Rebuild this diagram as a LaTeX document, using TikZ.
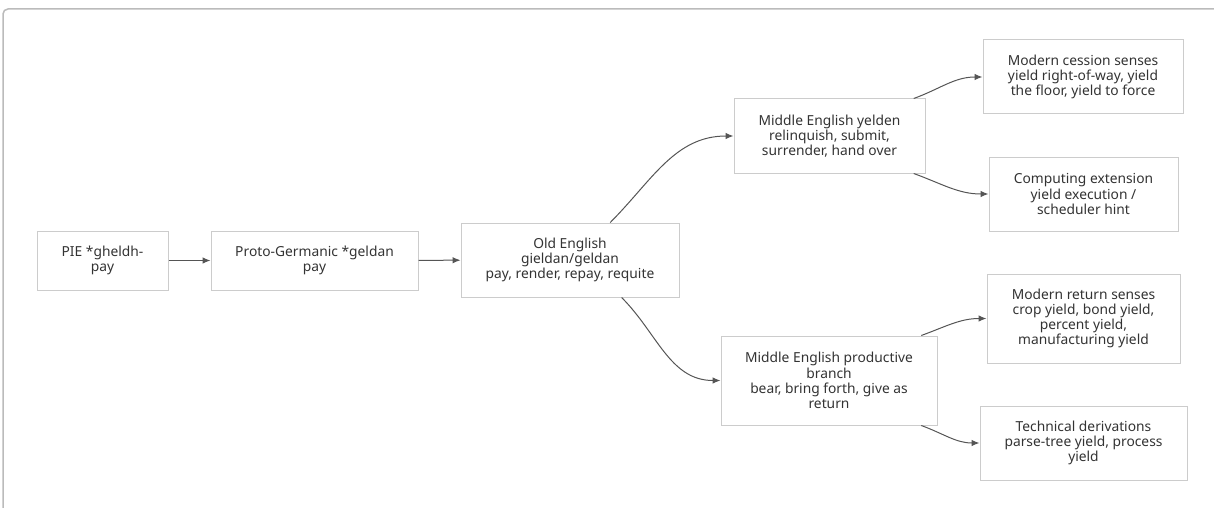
\documentclass[tikz,border=0pt]{standalone}
\usepackage{fontspec}
\setmainfont{Noto Sans}
\usetikzlibrary{arrows,arrows.meta,positioning}

\definecolor{boxgray}{HTML}{CCCCCC}
\definecolor{textgray}{HTML}{333333}
\definecolor{linegray}{HTML}{555555}
\definecolor{framegray}{HTML}{BBBBBB}

\begin{document}
\begin{tikzpicture}[x=1pt,y=-1pt]
			\tikzstyle{Stage}	= [draw=boxgray, fill=white, text=textgray, align=center, inner sep=0pt, line width=1pt, font=\fontsize{13.8}{15.2}\selectfont]
			\tikzstyle{Link}	= [-{Latex[length=8pt,width=6.5pt]}, linegray, line width=1pt]
			\tikzstyle{Frame}	= [framegray, line width=1.5pt, rounded corners=5pt]

			\useasboundingbox (0,0) rectangle (1214,508);
			\draw [Frame] (1214,9) -- (3,9) -- (3,508);

			\node (pie) at (102.5,260.5) [Stage, minimum width=131, minimum height=59] {PIE *gheldh-\\pay};
			\node (pgmc) at (314.5,260.5) [Stage, minimum width=207, minimum height=59] {Proto-Germanic *geldan\\pay};
			\node (oe) at (570,260) [Stage, minimum width=218, minimum height=74] {Old English\\gieldan/geldan\\pay, render, repay, requite};
			\node (yelden) at (829.5,136) [Stage, minimum width=191, minimum height=74] {Middle English yelden\\relinquish, submit,\\surrender, hand over};
			\node (prod) at (829,380.5) [Stage, minimum width=216, minimum height=89] {Middle English productive\\branch\\bear, bring forth, give as\\return};
			\node (cession) at (1083,77) [Stage, minimum width=200, minimum height=74] {Modern cession senses\\yield right-of-way, yield\\the floor, yield to force};
			\node (comp) at (1083.5,194) [Stage, minimum width=189, minimum height=74] {Computing extension\\yield execution /\\scheduler hint};
			\node (ret) at (1083.5,318.5) [Stage, minimum width=193, minimum height=89] {Modern return senses\\crop yield, bond yield,\\percent yield,\\manufacturing yield};
			\node (tech) at (1083.5,443) [Stage, minimum width=207, minimum height=74] {Technical derivations\\parse-tree yield, process\\yield};

			\draw [Link] (pie) to (pgmc);
			\draw [Link] (pgmc) to (oe);
			\draw [Link] (oe.43) to [out=45, in=180] (yelden);
			\draw [Link] (oe.-36) to [out=-45, in=180] (prod);
			\draw [Link] (yelden.24) to [out=20, in=180] (cession);
			\draw [Link] (yelden.-24) to [out=-20, in=180] (comp);
			\draw [Link] (prod.26) to [out=20, in=180] (ret);
			\draw [Link] (prod.-26) to [out=-20, in=180] (tech);
		\end{tikzpicture}
\end{document}
